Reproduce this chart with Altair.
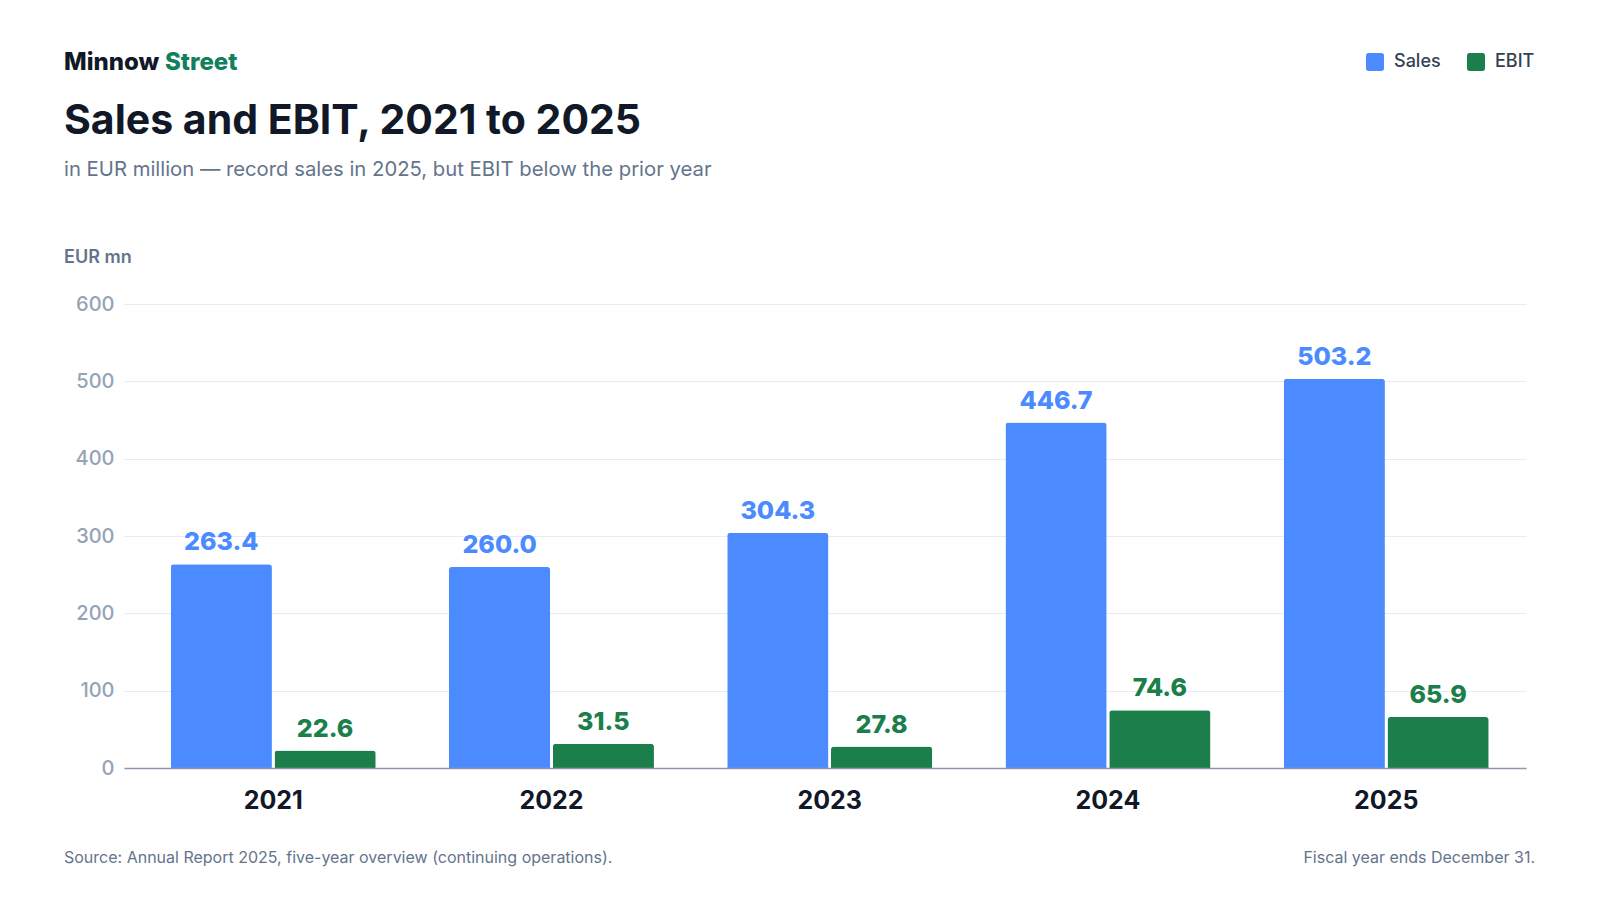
import altair as alt
import pandas as pd

# ---- data ----
years = ["2021", "2022", "2023", "2024", "2025"]
sales = [263.4, 260.0, 304.3, 446.7, 503.2]
ebit = [22.6, 31.5, 27.8, 74.6, 65.9]
series = ["Sales", "EBIT"]
colors = ["#4B8BFF", "#1C7F4B"]
y_ticks = [0, 100, 200, 300, 400, 500, 600]

brand_a = "Minnow"
brand_b = "Street"
title_text = "Sales and EBIT, 2021 to 2025"
subtitle_text = "in EUR million \u2014 record sales in 2025, but EBIT below the prior year"
unit_text = "EUR mn"
source_text = "Source: Annual Report 2025, five-year overview (continuing operations)."
note_text = "Fiscal year ends December 31."

rows = []
for i, yr in enumerate(years):
    rows.append({"year": yr, "series": "Sales", "value": sales[i]})
    rows.append({"year": yr, "series": "EBIT", "value": ebit[i]})
df = pd.DataFrame(rows)

FONT = "Inter"
W, H = 1402, 464

rounded_sq = ("M-0.7,-1 H0.7 Q1,-1 1,-0.7 V0.7 Q1,1 0.7,1 H-0.7 "
              "Q-1,1 -1,0.7 V-0.7 Q-1,-1 -0.7,-1 Z")

x_enc = alt.X(
    "year:N", sort=years,
    scale=alt.Scale(paddingInner=0.2633, paddingOuter=0.151, align=0.556),
    axis=alt.Axis(title=None, labelAngle=0, ticks=False, domain=True,
                  domainColor="#8E98AB", domainWidth=1.5,
                  labelFont=FONT, labelFontSize=25, labelFontWeight=700,
                  labelColor="#111827", labelPadding=40,
                  labelBaseline="alphabetic", zindex=1),
)
y_enc = alt.Y(
    "value:Q", scale=alt.Scale(domain=[0, 600], nice=False),
    axis=alt.Axis(title=None, values=y_ticks, grid=True, gridColor="#E8EBF0",
                  gridWidth=1, domain=False, ticks=False, labelPadding=10,
                  labelFont=FONT, labelFontSize=20, labelFontWeight=500,
                  labelColor="#94A3B8"),
)
xoff = alt.XOffset("series:N", sort=series, scale=alt.Scale(paddingInner=0.025))
color_enc = alt.Color(
    "series:N", sort=series,
    scale=alt.Scale(domain=series, range=colors),
    legend=alt.Legend(orient="none", legendX=1242, legendY=-251,
                      direction="horizontal", title=None, padding=0,
                      symbolType=rounded_sq, symbolSize=324,
                      symbolStrokeWidth=0, symbolOpacity=1,
                      labelFont=FONT, labelFontSize=18, labelFontWeight=500,
                      labelColor="#334155", labelOffset=10, columnPadding=26),
)

base = alt.Chart(df)
bars = base.mark_bar(cornerRadiusTopLeft=3, cornerRadiusTopRight=3).encode(
    x=x_enc, y=y_enc, xOffset=xoff, color=color_enc
)
labels = base.mark_text(font=FONT, fontSize=25, fontWeight=800,
                        baseline="alphabetic", dy=-14).encode(
    x=alt.X("year:N", sort=years), y="value:Q", xOffset=xoff,
    color=alt.Color("series:N", sort=series, legend=None),
    text=alt.Text("value:Q", format=".1f"),
)


def note(text, x, y, size, weight=400, color="#64748B", align="left"):
    return alt.Chart(pd.DataFrame({"t": [text]})).mark_text(
        font=FONT, fontSize=size, fontWeight=weight, color=color,
        align=align, baseline="alphabetic"
    ).encode(x=alt.value(x), y=alt.value(y), text="t:N")


texts = [
    note(brand_a, -60, -234, 24, 800, "#111827"),
    note(brand_b, 41, -234, 24, 800, "#12805C"),
    note(title_text, -60, -170, 41, 700, "#111827"),
    note(subtitle_text, -60, -128, 20.3, 400, "#64748B"),
    note(unit_text, -60, -41, 18, 600, "#64748B"),
    note(source_text, -60, 559, 16, 400, "#64748B"),
    note(note_text, 1411, 559, 16, 400, "#64748B", "right"),
]

chart = alt.layer(bars, labels, *texts).properties(
    width=W, height=H,
    padding={"left": 116, "top": 296, "right": 66, "bottom": 124},
    autosize=alt.AutoSizeParams(type="none"),
    background="white",
).configure_view(stroke=None)

chart.save("out.html", embed_options={"renderer": "svg", "actions": False})
